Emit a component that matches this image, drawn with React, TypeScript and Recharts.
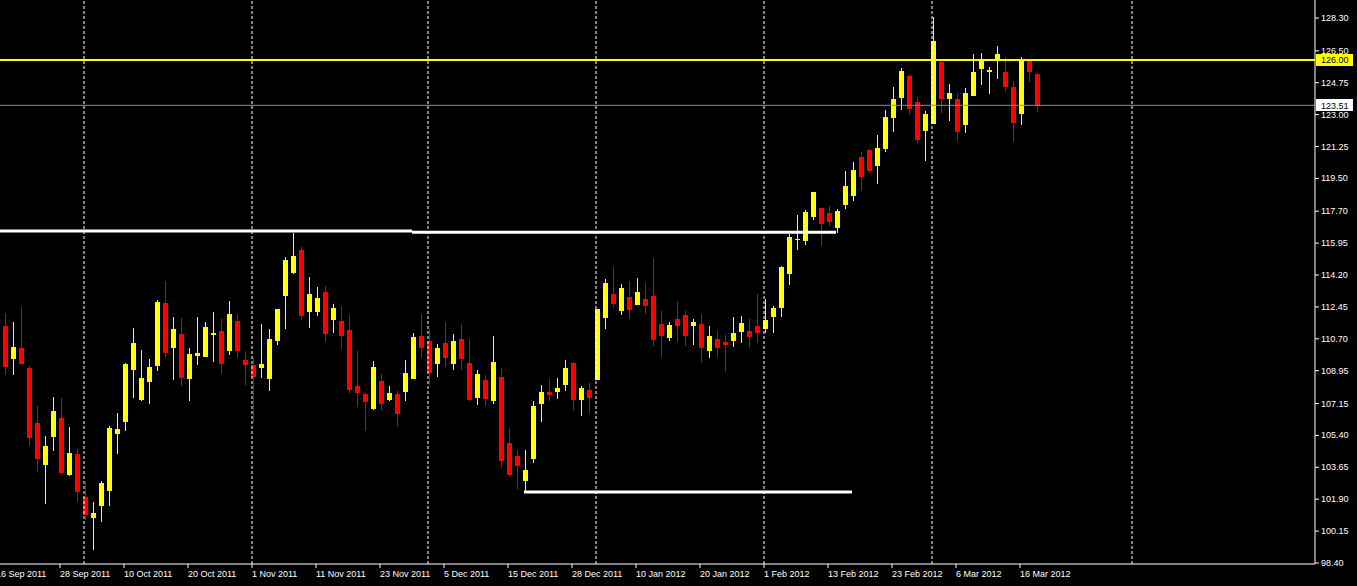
import { ComposedChart, Bar, XAxis, YAxis, ReferenceLine } from 'recharts'

// calendar of the chart: trading days, then calendar days in the shifted area
const firstDay = '2011-09-16'
const lastDay = '2012-03-20'
const holidays = ['2011-12-26', '2012-01-02']
const futureDays = 34
const MONTHS = ['Jan', 'Feb', 'Mar', 'Apr', 'May', 'Jun', 'Jul', 'Aug', 'Sep', 'Oct', 'Nov', 'Dec']

// daily candles, 19 Sep 2011 .. 20 Mar 2012
const opens = [
  111.40, 109.59, 110.21, 109.11, 106.10, 103.79, 105.33, 106.37, 103.23, 104.39,
  102.02, 100.87, 101.53, 102.37, 105.48, 106.14, 108.99, 107.33, 108.33, 109.22,
  112.66, 110.21, 110.96, 108.51, 109.77, 109.72, 110.91, 111.13, 110.05, 111.68,
  109.54, 109.26, 109.11, 108.51, 110.60, 113.06, 114.33, 115.57, 112.19, 112.19,
  113.27, 111.75, 111.68, 111.18, 108.12, 107.69, 106.87, 108.40, 107.36, 107.69,
  107.80, 108.51, 110.87, 110.60, 109.33, 110.49, 109.33, 110.70, 109.39, 107.47,
  108.46, 107.30, 108.62, 105.00, 104.29, 102.91, 104.12, 107.14, 107.80, 107.80,
  108.18, 109.39, 107.36, 107.91, 108.46, 111.86, 113.17, 112.24, 113.01, 112.57,
  112.88, 113.05, 111.51, 110.76, 111.79, 112.01, 111.42, 111.51, 110.05, 110.69,
  110.52, 110.60, 111.09, 111.14, 111.40, 111.24, 111.90, 112.41, 114.27, 116.14,
  116.08, 117.40, 117.89, 117.60, 116.78, 118.06, 118.55, 120.67, 121.06, 120.20,
  121.13, 122.83, 123.93, 125.12, 123.69, 122.12, 122.50, 125.89, 123.87, 123.87,
  122.45, 124.04, 125.52, 125.35, 125.96, 125.34, 124.51, 123.05, 126.01, 125.24,
]
const highs = [
  112.13, 111.62, 112.46, 109.21, 107.01, 105.38, 107.51, 107.45, 105.86, 104.67,
  102.83, 101.75, 102.90, 105.93, 106.63, 109.37, 111.31, 110.08, 109.59, 112.83,
  113.87, 111.90, 111.84, 110.20, 111.90, 111.62, 112.17, 111.79, 112.77, 112.06,
  110.03, 109.72, 111.51, 111.24, 112.34, 115.19, 116.52, 115.74, 114.09, 113.54,
  113.60, 112.61, 112.50, 112.01, 110.03, 107.74, 109.50, 108.79, 108.11, 107.85,
  109.54, 111.02, 112.06, 111.24, 110.43, 111.62, 110.96, 111.51, 110.69, 108.99,
  108.73, 110.87, 109.11, 105.82, 104.60, 104.60, 107.29, 108.18, 108.51, 108.56,
  109.55, 109.44, 108.12, 108.29, 112.35, 113.99, 114.66, 113.72, 113.89, 114.03,
  113.76, 115.13, 112.23, 111.62, 112.77, 112.23, 111.79, 112.06, 111.40, 111.13,
  110.91, 111.90, 111.95, 111.79, 113.16, 112.88, 112.50, 114.69, 116.45, 117.51,
  117.77, 118.75, 117.89, 117.99, 117.82, 119.91, 120.40, 120.95, 121.10, 121.88,
  123.25, 124.52, 125.56, 125.17, 123.97, 123.20, 128.37, 125.89, 124.68, 124.19,
  124.46, 126.32, 126.38, 125.61, 126.76, 126.18, 124.84, 126.18, 126.07, 125.30,
]
const lows = [
  108.71, 108.71, 109.26, 104.82, 103.41, 101.64, 104.54, 103.23, 103.19, 101.75,
  100.76, 99.11, 100.65, 101.53, 104.38, 105.66, 107.47, 107.28, 107.14, 108.95,
  109.72, 108.45, 108.12, 107.30, 109.28, 109.72, 109.44, 108.78, 109.83, 109.66,
  108.18, 106.10, 108.56, 107.85, 110.37, 111.25, 114.26, 111.75, 111.31, 111.97,
  110.54, 111.03, 110.16, 107.74, 106.97, 105.66, 106.81, 106.81, 107.30, 105.88,
  107.30, 108.51, 109.66, 108.16, 108.62, 109.17, 109.00, 109.00, 107.30, 107.08,
  107.03, 107.14, 103.63, 103.13, 102.47, 102.31, 103.90, 106.15, 107.30, 107.41,
  107.85, 106.76, 106.48, 106.65, 108.46, 111.25, 112.41, 112.02, 111.80, 112.57,
  112.08, 110.32, 109.72, 110.60, 110.54, 110.32, 110.38, 109.39, 109.66, 109.72,
  108.89, 110.27, 110.49, 110.21, 110.49, 111.02, 111.03, 111.91, 113.67, 115.59,
  115.86, 117.22, 115.81, 116.90, 116.52, 117.84, 118.27, 118.82, 119.81, 119.21,
  120.97, 122.06, 123.27, 122.99, 121.46, 120.47, 122.50, 123.10, 122.67, 121.57,
  122.01, 124.04, 124.64, 124.15, 124.97, 124.26, 121.51, 122.45, 124.81, 123.16,
]
const closes = [
  109.17, 110.25, 109.32, 105.27, 104.10, 104.83, 106.74, 103.32, 104.43, 102.31,
  101.03, 101.16, 102.80, 105.82, 105.75, 109.32, 110.49, 108.55, 109.15, 112.72,
  109.94, 111.24, 108.56, 109.87, 109.92, 111.35, 111.02, 109.33, 112.06, 110.05,
  109.28, 108.62, 109.32, 110.69, 112.34, 115.02, 115.24, 111.97, 113.16, 112.94,
  110.98, 112.39, 110.87, 107.91, 107.74, 107.25, 109.17, 107.14, 107.73, 106.59,
  108.84, 110.81, 110.21, 108.84, 110.21, 109.66, 110.60, 109.61, 107.36, 108.79,
  107.41, 109.44, 104.01, 103.23, 103.74, 103.52, 107.03, 107.80, 107.63, 108.02,
  109.11, 107.36, 108.02, 107.47, 112.35, 113.78, 112.62, 113.50, 112.28, 113.27,
  112.51, 110.65, 110.87, 111.46, 111.42, 110.87, 111.64, 110.21, 110.85, 110.21,
  110.38, 111.02, 111.57, 110.81, 111.02, 111.73, 112.39, 114.64, 116.29, 116.19,
  117.66, 118.75, 117.01, 117.12, 117.71, 119.08, 119.96, 119.59, 119.91, 121.18,
  122.87, 123.86, 125.39, 123.32, 121.62, 123.03, 127.04, 123.87, 124.19, 122.06,
  124.19, 125.34, 126.05, 125.46, 126.32, 124.53, 122.56, 126.07, 125.34, 123.49,
]

const priceTicks = [
  128.30, 126.50, 124.75, 123.00, 121.25, 119.50, 117.70, 115.95, 114.20,
  112.45, 110.70, 108.95, 107.15, 105.40, 103.65, 101.90, 100.15, 98.40,
]
const levelPrice = 126.00
const bidPrice = 123.51
const resistance = { from: '2011-09-16', to: '2011-11-29', price: 116.61 }
const resistance2 = { from: '2011-11-29', to: '2012-02-14', price: 116.54 }
const support = { from: '2011-12-19', to: '2012-02-16', price: 102.30 }

const FONT = 'Liberation Sans, Arial, sans-serif'

function isoOf(d: Date) {
  return d.toISOString().slice(0, 10)
}

function buildKeys() {
  const keys: string[] = []
  const d = new Date(firstDay + 'T00:00:00Z')
  const end = new Date(lastDay + 'T00:00:00Z').getTime()
  while (d.getTime() <= end) {
    const wd = d.getUTCDay()
    if (wd !== 0 && wd !== 6 && !holidays.includes(isoOf(d))) keys.push(isoOf(d))
    d.setUTCDate(d.getUTCDate() + 1)
  }
  for (let i = 0; i < futureDays; i++) {
    keys.push(isoOf(d))
    d.setUTCDate(d.getUTCDate() + 1)
  }
  return keys
}

const keys = buildKeys()
const data = keys.map((key, i) => {
  const c = i - 1
  if (c < 0 || c >= opens.length) return { key }
  return { key, open: opens[c], high: highs[c], low: lows[c], close: closes[c] }
})
const dateTicks = keys.filter((_, i) => i % 8 === 0 && i <= opens.length)
const monthLines = keys.filter((k, i) => i > 0 && k.slice(5, 7) !== keys[i - 1].slice(5, 7))

function fmtDate(iso: string) {
  const [y, m, d] = iso.split('-')
  return `${Number(d)} ${MONTHS[Number(m) - 1]} ${y}`
}

function Candle(props: any) {
  const { x, y, width, height, payload } = props
  if (payload == null || payload.open == null) return null
  const { open, close, high, low } = payload
  const k = height / (high - low)
  const cx = Math.round(x + width / 2)
  const top = Math.round(y + (high - Math.max(open, close)) * k)
  const bottom = Math.round(y + (high - Math.min(open, close)) * k)
  const up = close >= open
  const body = up ? '#FFFF00' : '#FF0000'
  const wick = up ? '#FFFF00' : '#D40000'
  return (
    <g shapeRendering="crispEdges">
      <rect x={cx} y={Math.round(y)} width={1} height={Math.max(1, Math.round(height))} fill={wick} />
      <rect x={cx - 2} y={top} width={5} height={Math.max(1, bottom - top)} fill={body} />
    </g>
  )
}

function DateTick({ x, y, payload }: any) {
  return (
    <text x={x} y={y + 9} fill="#FFFFFF" fontSize={9} fontFamily={FONT} textAnchor="start">
      {fmtDate(payload.value)}
    </text>
  )
}

function PriceTick({ x, y, payload }: any) {
  return (
    <text x={x + 2} y={y + 3} fill="#FFFFFF" fontSize={9} fontFamily={FONT} textAnchor="start">
      {Number(payload.value).toFixed(2)}
    </text>
  )
}

function PriceTag({ viewBox, value, bg }: any) {
  const right = viewBox.x + viewBox.width
  const cy = viewBox.y
  return (
    <g>
      <rect x={right + 1} y={cy - 6} width={37} height={12} fill={bg} shapeRendering="crispEdges" />
      <text x={right + 6} y={cy + 3.5} fill="#000000" fontSize={9} fontFamily={FONT}>
        {value.toFixed(2)}
      </text>
    </g>
  )
}

export default function App() {
  return (
    <div style={{ position: 'absolute', left: 0, top: 0, width: 1357, height: 586, background: '#000000' }}>
      <ComposedChart
        width={1357}
        height={586}
        data={data}
        margin={{ top: 0, right: 0, left: -8, bottom: 0 }}
        style={{ background: '#000000' }}
      >
        <XAxis
          dataKey="key"
          ticks={dateTicks}
          interval={0}
          height={22}
          padding={{ left: 0, right: 3 }}
          axisLine={{ stroke: '#FFFFFF' }}
          tickLine={{ stroke: '#FFFFFF' }}
          tickSize={4}
          tickMargin={0}
          tick={<DateTick />}
        />
        <YAxis
          orientation="right"
          type="number"
          width={42}
          domain={[98.345, 129.288]}
          allowDataOverflow
          ticks={priceTicks}
          interval={0}
          axisLine={{ stroke: '#FFFFFF' }}
          tickLine={{ stroke: '#FFFFFF' }}
          tickSize={4}
          tickMargin={0}
          tick={<PriceTick />}
        />
        {monthLines.map(k => (
          <ReferenceLine key={k} x={k} stroke="#FFFFFF" strokeWidth={1} strokeDasharray="3 2" />
        ))}
        <ReferenceLine y={bidPrice} stroke="#8C8C8C" strokeWidth={1}
          label={<PriceTag value={bidPrice} bg="#FFFFFF" />} />
        <Bar
          dataKey={(d: any) => (d.open == null ? null : [d.low, d.high])}
          barSize={5}
          shape={<Candle />}
          isAnimationActive={false}
        />
        <ReferenceLine y={levelPrice} stroke="#FFFF00" strokeWidth={2}
          label={<PriceTag value={levelPrice} bg="#FFFF00" />} />
        <ReferenceLine
          segment={[{ x: resistance.from, y: resistance.price }, { x: resistance.to, y: resistance.price }]}
          stroke="#FFFFFF" strokeWidth={3} />
        <ReferenceLine
          segment={[{ x: resistance2.from, y: resistance2.price }, { x: resistance2.to, y: resistance2.price }]}
          stroke="#FFFFFF" strokeWidth={3} />
        <ReferenceLine
          segment={[{ x: support.from, y: support.price }, { x: support.to, y: support.price }]}
          stroke="#FFFFFF" strokeWidth={3} />
      </ComposedChart>
    </div>
  )
}
